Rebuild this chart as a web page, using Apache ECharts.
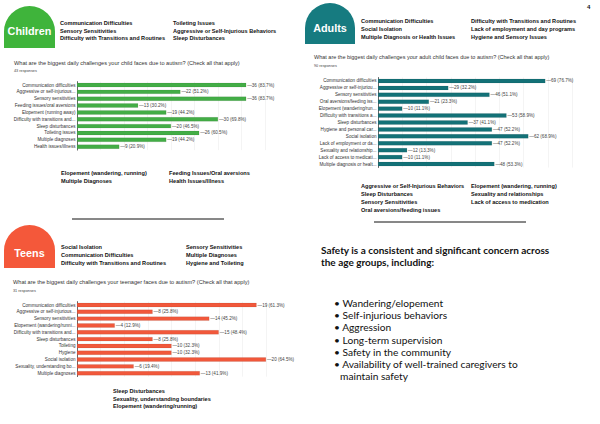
<!DOCTYPE html>
<html><head><meta charset="utf-8">
<script src="https://cdn.jsdelivr.net/npm/echarts@6/dist/echarts.min.js"></script>
<style>html,body{margin:0;padding:0;background:#fff}#c{width:600px;height:424px}</style>
</head><body><div id="c"></div>
<script>
// ---- data ----
const childCats = ["Communication difficulties","Aggressive or self-injurious...","Sensory sensitivities","Feeding issues/oral aversions","Elopement (running away)","Difficulty with transitions and...","Sleep disturbances","Toileting issues","Multiple diagnoses","Health issues/illness"];
const childVals = [36,22,36,13,19,30,20,26,19,9];
const childPct = ["83.7","51.2","83.7","30.2","44.2","69.8","46.5","60.5","44.2","20.9"];

const adultCats = ["Communication difficulties","Aggressive or self-injuriou...","Sensory sensitivities","Oral aversions/feeding iss...","Elopement (wandering/run...","Difficulty with transitions a...","Sleep disturbances","Hygiene and personal car...","Social isolation","Lack of employment or da...","Sexuality and relationship...","Lack of access to medicati...","Multiple diagnosis or healt..."];
const adultVals = [69,29,46,21,10,53,37,47,62,47,12,10,48];
const adultPct = ["76.7","32.2","51.1","23.3","11.1","58.9","41.1","52.2","68.9","52.2","13.3","11.1","53.3"];

const teenCats = ["Communication difficulties","Aggressive or self-injurious...","Sensory sensitivities","Elopement (wandering/runni...","Difficulty with transitions and...","Sleep disturbances","Toileting","Hygiene","Social isolation","Sexuality, understanding bo...","Multiple diagnoses"];
const teenVals = [19,8,14,4,15,8,10,10,20,6,13];
const teenPct = ["61.3","25.8","45.2","12.9","48.4","25.8","32.3","32.3","64.5","19.4","41.9"];

const childTop = [["Communication Difficulties","Sensory Sensitivities","Difficulty with Transitions and Routines"],["Toileting Issues","Aggressive or Self-Injurious Behaviors","Sleep Disturbances"]];
const childBottom = [["Elopement (wandering, running)","Multiple Diagnoses"],["Feeding Issues/Oral aversions","Health Issues/Illness"]];
const adultTop = [["Communication Difficulties","Social Isolation","Multiple Diagnosis or Health Issues"],["Difficulty with Transitions and Routines","Lack of employment and day programs","Hygiene and Sensory Issues"]];
const adultBottom = [["Aggressive or Self-Injurious Behaviors","Sleep Disturbances","Sensory Sensitivities","Oral aversions/feeding issues"],["Elopement (wandering, running)","Sexuality and relationships","Lack of access to medication"]];
const teenTop = [["Social Isolation","Communication Difficulties","Difficulty with Transitions and Routines"],["Sensory Sensitivities","Multiple Diagnoses","Hygiene and Toileting"]];
const teenBottom = ["Sleep Disturbances","Sexuality, understanding boundaries","Elopement (wandering/running)"];
const safetyTitle = ["Safety is a consistent and significant concern across","the age groups, including:"];
const safetyItems = ["Wandering/elopement","Self-injurious behaviors","Aggression","Long-term supervision","Safety in the community","Availability of well-trained caregivers to","maintain safety"];

// ---- rendering ----
const chart = echarts.init(document.getElementById('c'), null, {renderer:'svg'});
const G = [];
function txt(x,y,s,opt){G.push({type:'text',x:x,y:y,style:Object.assign({text:s,fill:'#111',font:'bold 5.6px "Liberation Sans", Arial, sans-serif',textVerticalAlign:'middle'},opt||{})});}
function col(x,y0,list,step){list.forEach((s,i)=>txt(x,y0+i*step,s));}
function badge(x,y,w,h,color,label,ty){
  G.push({type:'rect',shape:{x:x,y:y,width:w,height:h,r:[w/2,w/2,0,0]},style:{fill:color}});
  G.push({type:'text',x:x+w/2,y:ty,style:{text:label,fill:'#fff',font:'bold 10.8px "Liberation Sans", Arial, sans-serif',textAlign:'center',textVerticalAlign:'middle'}});
}
// Children
badge(4,6,51,42,'#3fb43b','Children',31);
col(60,23,childTop[0],7.6); col(173,23,childTop[1],7.6);
txt(14,62.5,"What are the biggest daily challenges your child faces due to autism? (Check all that apply)",{font:'5.6px "Liberation Sans", Arial, sans-serif',fill:'#333'});
txt(14,71,"43 responses",{font:'3.8px "Liberation Sans", Arial, sans-serif',fill:'#444'});
col(61,173,childBottom[0],7.8); col(169,173,childBottom[1],7.8);
G.push({type:'line',shape:{x1:72,y1:219,x2:224,y2:219},style:{stroke:'#111',lineWidth:1}});
// Adults
badge(305,3,50,41,'#167b80','Adults',28);
txt(587,7,"4",{font:'bold 6px "Liberation Sans", Arial, sans-serif'});
col(361,21,adultTop[0],8); col(471,21,adultTop[1],8);
txt(314,57,"What are the biggest daily challenges your adult child faces due to autism? (Check all that apply)",{font:'5.5px "Liberation Sans", Arial, sans-serif',fill:'#333'});
txt(314,66,"90 responses",{font:'3.8px "Liberation Sans", Arial, sans-serif',fill:'#444'});
col(361,186,adultBottom[0],8); col(471,186,adultBottom[1],8);
G.push({type:'line',shape:{x1:374,y1:222,x2:526,y2:222},style:{stroke:'#111',lineWidth:1}});
// Teens
badge(4,225,51,43,'#f4583a','Teens',253);
col(61,247,teenTop[0],8); col(186,247,teenTop[1],8);
txt(13,282,"What are the biggest daily challenges your teenager faces due to autism? (Check all that apply)",{font:'5.6px "Liberation Sans", Arial, sans-serif',fill:'#333'});
txt(13,291,"31 responses",{font:'3.8px "Liberation Sans", Arial, sans-serif',fill:'#444'});
col(113,391,teenBottom,7.5);
// Safety
safetyTitle.forEach((s,i)=>txt(321,250+i*12.3,s,{font:'bold 10px Lato, sans-serif',fill:'#111',lineHeight:11}));
safetyItems.forEach((s,i)=>{
  const y=303+i*12.2;
  const st={font:'10.2px Lato, sans-serif',fill:'#111',lineHeight:11};
  if(i<6) txt(334,y,"• "+s,st);
  else txt(340,y,s,st);
});

function mk(idx,cats,vals,pct,color){
  const yAxis={type:'category',gridIndex:idx,data:cats,inverse:true,axisTick:{show:false},
    axisLine:{lineStyle:{color:'#444',width:0.8}},
    axisLabel:{interval:0,fontSize:4.6,color:'#333',margin:1.5,fontFamily:'"Liberation Sans", Arial, sans-serif'}};
  const series={type:'bar',xAxisIndex:idx,yAxisIndex:idx,data:vals,barCategoryGap:'38%',
    itemStyle:{color:color,borderColor:'rgba(0,0,0,0.25)',borderWidth:0.3},
    label:{show:true,position:'right',distance:1,fontSize:4.6,color:'#444',fontFamily:'"Liberation Sans", Arial, sans-serif',
      formatter:p=>'—'+p.value+' ('+pct[p.dataIndex]+'%)'},silent:true,animation:false};
  return {yAxis,series};
}
const c=mk(0,childCats,childVals,childPct,'#43ad46');
const a=mk(1,adultCats,adultVals,adultPct,'#137177');
const t=mk(2,teenCats,teenVals,teenPct,'#f1583b');
function xa(idx,max,interval){return {type:'value',gridIndex:idx,min:0,max:max,interval:interval,
  axisLabel:{show:false},axisLine:{show:false},axisTick:{show:false},splitLine:{lineStyle:{color:'#ececec',width:0.6}}};}
chart.setOption({
  animation:false,
  grid:[{left:77,top:81.6,width:188,height:68.5},{left:378,top:77.5,width:194,height:90},{left:77,top:301.6,width:189,height:75}],
  xAxis:[xa(0,40,5),xa(1,80,10),xa(2,20,2.5)],
  yAxis:[c.yAxis,a.yAxis,t.yAxis],
  series:[c.series,a.series,t.series],
  graphic:G
});
</script></body></html>
